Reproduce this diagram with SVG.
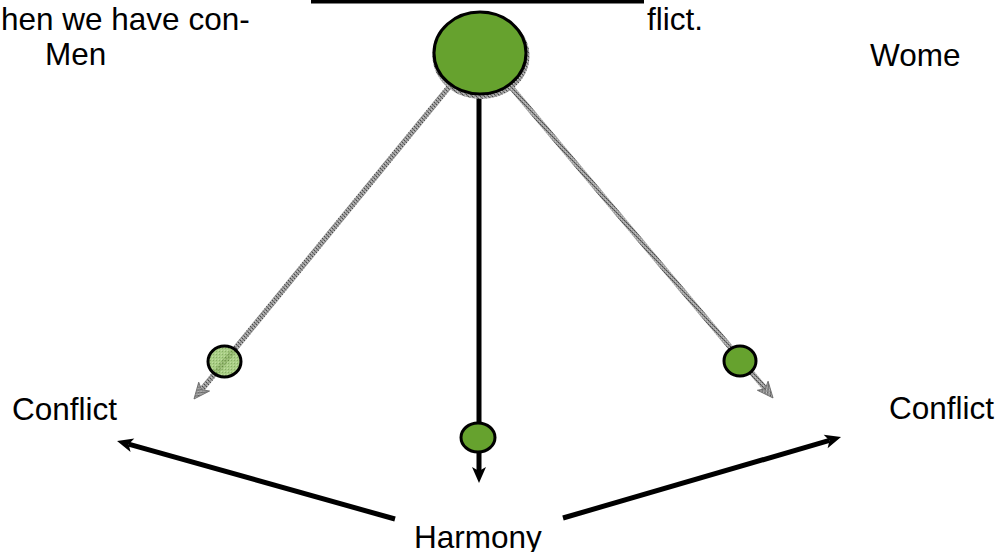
<svg xmlns="http://www.w3.org/2000/svg" width="1000" height="552" viewBox="0 0 1000 552">
  <style>
    .lbl { font-family: "Liberation Sans", Arial, sans-serif; font-size: 31.5px; fill: #000; }
    .solid { stroke: #000; stroke-width: 5; fill: none; }
    .grey { stroke: url(#grain); stroke-width: 5.5; fill: none; }
    .bob { fill: #66a22e; stroke: #000; stroke-width: 3; }
  </style>
  <defs>
    <!-- grainy grey used for the swinging strings -->
    <pattern id="grain" width="4" height="4" patternUnits="userSpaceOnUse">
      <rect width="4" height="4" fill="#9a9a9a"/>
      <rect width="1" height="1" fill="#4a4a4a"/>
      <rect x="2" y="2" width="1" height="1" fill="#4a4a4a"/>
      <rect x="1" y="1" width="1" height="1" fill="#6e6e6e"/>
      <rect x="3" y="3" width="1" height="1" fill="#6e6e6e"/>
      <rect x="3" y="1" width="1" height="1" fill="#c4c4c4"/>
      <rect x="1" y="3" width="1" height="1" fill="#c4c4c4"/>
    </pattern>
    <!-- checkered light green for the faded bob -->
    <pattern id="check" width="3" height="3" patternUnits="userSpaceOnUse">
      <rect width="3" height="3" fill="#94c266"/>
      <rect width="1" height="1" fill="#6a9841"/>
      <rect x="2" y="2" width="1" height="1" fill="#b0d48a"/>
    </pattern>
    <marker id="headBlack" markerUnits="userSpaceOnUse" markerWidth="20" markerHeight="18" viewBox="0 -9 20 18" refX="4" refY="0" orient="auto" overflow="visible">
      <path d="M0,-7 L16,0 L0,7 L4,0 Z" fill="#000"/>
    </marker>
    <marker id="headGrey" markerUnits="userSpaceOnUse" markerWidth="20" markerHeight="18" viewBox="0 -9 20 18" refX="4" refY="0" orient="auto" overflow="visible">
      <path d="M0,-7 L16,0 L0,7 L4,0 Z" fill="url(#grain)" stroke="#666" stroke-width="0.8"/>
    </marker>
  </defs>

  <!-- heading text, split around the bar -->
  <g id="heading">
    <text class="lbl" x="1" y="30">hen we have con-</text>
    <rect x="311" y="0" width="333" height="3.5" fill="#000"/>
    <text class="lbl" x="647" y="30">flict.</text>
  </g>

  <g id="label-men"><text class="lbl" x="45" y="65">Men</text></g>
  <g id="label-women"><text class="lbl" x="870" y="66">Wome</text></g>
  <g id="label-conflict-left"><text class="lbl" x="12" y="420">Conflict</text></g>
  <g id="label-conflict-right"><text class="lbl" x="889" y="419">Conflict</text></g>
  <g id="label-harmony"><text class="lbl" x="414" y="548">Harmony</text></g>

  <g id="connectors">
    <!-- strings of the pendulum -->
    <line class="grey" x1="449" y1="87" x2="201.6" y2="389.7" marker-end="url(#headGrey)"/>
    <line class="grey" x1="511" y1="87" x2="765.3" y2="388.8" marker-end="url(#headGrey)"/>
    <line class="solid" x1="479" y1="94" x2="479" y2="471" marker-end="url(#headBlack)"/>
    <!-- from harmony out to the two conflicts -->
    <line class="solid" x1="395" y1="519" x2="128.6" y2="444.2" marker-end="url(#headBlack)"/>
    <line class="solid" x1="563" y1="518" x2="829.5" y2="440.4" marker-end="url(#headBlack)"/>
  </g>

  <!-- pivot -->
  <g id="pivot">
    <ellipse cx="481" cy="56" rx="48.5" ry="43" fill="url(#grain)"/>
    <ellipse class="bob" cx="480" cy="53" rx="46" ry="41"/>
  </g>

  <g id="bob-left">
    <ellipse cx="224.5" cy="361.5" rx="16.5" ry="15.5" fill="url(#check)" fill-opacity="0.8" stroke="#000" stroke-width="3"/>
  </g>
  <g id="bob-centre">
    <ellipse class="bob" cx="478" cy="437.5" rx="17" ry="14.5"/>
  </g>
  <g id="bob-right">
    <ellipse class="bob" cx="740" cy="361" rx="16" ry="15"/>
  </g>
</svg>
